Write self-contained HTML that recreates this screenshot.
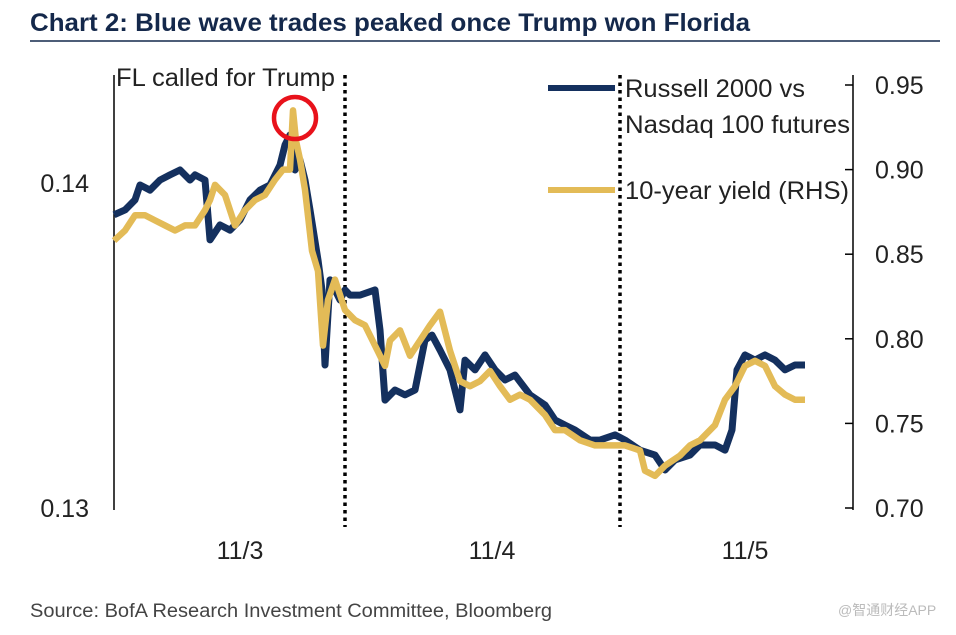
<!DOCTYPE html>
<html><head><meta charset="utf-8"><style>
body{margin:0;background:#fff;width:956px;height:630px;overflow:hidden;font-family:"Liberation Sans",sans-serif}
</style></head><body>
<svg id="chart" width="956" height="630" xmlns="http://www.w3.org/2000/svg">
<text x="30" y="31" font-family="Liberation Sans, sans-serif" font-weight="bold" font-size="25" fill="#14284b" textLength="720" lengthAdjust="spacingAndGlyphs">Chart 2: Blue wave trades peaked once Trump won Florida</text>
<line x1="30" y1="41" x2="940" y2="41" stroke="#14284b" stroke-width="1.5"/>
<line x1="114" y1="75" x2="114" y2="510" stroke="#000" stroke-width="1.5"/>
<line x1="853" y1="75" x2="853" y2="510" stroke="#000" stroke-width="1.5"/>
<g id="grid"></g>
<g id="series"></g>
<circle cx="295" cy="118" r="21" fill="none" stroke="#e8121b" stroke-width="4.5"/>
<text x="116" y="86" font-size="25" fill="#222" textLength="219" lengthAdjust="spacingAndGlyphs">FL called for Trump</text>
<g>
<line x1="548" y1="88" x2="615" y2="88" stroke="#14305e" stroke-width="6"/>
<text x="625" y="97" font-size="25" fill="#222" textLength="180" lengthAdjust="spacingAndGlyphs">Russell 2000 vs</text>
<text x="625" y="133" font-size="25" fill="#222" textLength="225" lengthAdjust="spacingAndGlyphs">Nasdaq 100 futures</text>
<line x1="548" y1="190" x2="615" y2="190" stroke="#e3bb57" stroke-width="6"/>
<text x="625" y="199" font-size="25" fill="#222" textLength="224" lengthAdjust="spacingAndGlyphs">10-year yield (RHS)</text>
</g>
<text x="30" y="617" font-family="Liberation Sans, sans-serif" font-size="19" fill="#444" textLength="522" lengthAdjust="spacingAndGlyphs">Source: BofA Research Investment Committee, Bloomberg</text>
<text x="838" y="615" font-family="Liberation Sans, Noto Sans CJK SC, sans-serif" font-size="14" fill="#bbb">@智通财经APP</text>
</svg>
<script>
const timeIdx=[0,11,21,26,36,46,56,66,76,81,91,96,106,116,126,136,146,156,166,171,176,181,186,191,196,204,208,211,216,226,231,236,246,261,266,271,281,291,301,311,318,326,336,346,351,361,371,381,391,401,416,431,441,451,461,476,486,501,511,526,541,551,561,576,586,601,611,618,623,631,641,651,661,671,681,691];
const russell=[0.13902,0.13917,0.13948,0.13994,0.13978,0.14009,0.14025,0.14040,0.14009,0.14025,0.14009,0.13825,0.13871,0.13855,0.13886,0.13948,0.13978,0.13994,0.14055,0.14117,0.14148,0.14040,0.14071,0.14009,0.13917,0.13763,0.13671,0.13440,0.13702,0.13640,0.13671,0.13655,0.13655,0.13671,0.13548,0.13332,0.13363,0.13348,0.13363,0.13517,0.13532,0.13486,0.13425,0.13302,0.13455,0.13425,0.13471,0.13425,0.13394,0.13409,0.13348,0.13317,0.13271,0.13255,0.13240,0.13209,0.13209,0.13225,0.13209,0.13178,0.13163,0.13117,0.13148,0.13163,0.13194,0.13194,0.13178,0.13240,0.13425,0.13471,0.13455,0.13471,0.13455,0.13425,0.13440,0.13440];
const yieldTime=[0,11,21,31,41,51,61,71,81,91,96,101,111,121,131,141,151,161,169,176,179,182,186,191,198,204,209,214,221,231,241,251,261,271,276,286,296,306,316,326,336,346,356,366,376,386,396,406,416,431,441,451,466,481,496,511,526,531,541,551,566,576,586,601,611,621,631,641,651,661,671,681,691];
const yield10=[0.858,0.864,0.873,0.873,0.870,0.867,0.864,0.867,0.867,0.876,0.882,0.891,0.885,0.867,0.876,0.882,0.885,0.894,0.900,0.900,0.935,0.917,0.906,0.888,0.852,0.840,0.796,0.823,0.835,0.817,0.811,0.808,0.796,0.784,0.799,0.805,0.790,0.799,0.808,0.816,0.793,0.775,0.772,0.775,0.781,0.772,0.764,0.767,0.764,0.755,0.746,0.746,0.740,0.737,0.737,0.737,0.734,0.722,0.719,0.725,0.731,0.737,0.740,0.749,0.764,0.772,0.784,0.787,0.784,0.772,0.767,0.764,0.764];
const leftTicks=[0.13,0.14];
const rightTicks=[0.70,0.75,0.80,0.85,0.90,0.95];
const dayLabels=["11/3","11/4","11/5"];
const dayPos=[126,378,631];
const eventPos=[231,506];
const NS='http://www.w3.org/2000/svg';
const xS=t=>114+t;
const yL=v=>508-(v-0.13)/0.01*325;
const yR=v=>508-(v-0.70)/0.25*423;
const svg=document.getElementById('chart'),grid=document.getElementById('grid'),ser=document.getElementById('series');
function mk(tag,parent,at){const e=document.createElementNS(NS,tag);for(const k in at)e.setAttribute(k,at[k]);parent.appendChild(e);return e;}
leftTicks.forEach(v=>{const t=mk('text',grid,{x:89,y:yL(v)+9,'text-anchor':'end','font-size':25,fill:'#222'});t.textContent=v.toFixed(2);

});
rightTicks.forEach(v=>{const l=mk('line',grid,{x1:845,x2:853,y1:yR(v),y2:yR(v),stroke:'#000','stroke-width':1.5});


const t=mk('text',grid,{x:875,y:yR(v)+9,'font-size':25,fill:'#222'});t.textContent=v.toFixed(2);

});
dayLabels.forEach((d,i)=>{const t=mk('text',grid,{x:xS(dayPos[i]),y:559,'text-anchor':'middle','font-size':25,fill:'#222'});t.textContent=d;

});
eventPos.forEach(p=>{const l=mk('line',grid,{x1:xS(p),x2:xS(p),y1:75,y2:527,stroke:'#000','stroke-width':3.5,'stroke-dasharray':'3.5 4'});

});
const pb=mk('polyline',ser,{points:timeIdx.map((t,i)=>xS(t)+','+yL(russell[i])).join(' '),fill:'none',stroke:'#14305e','stroke-width':7,'stroke-linejoin':'round'});


const py=mk('polyline',ser,{points:yieldTime.map((t,i)=>xS(t)+','+yR(yield10[i])).join(' '),fill:'none',stroke:'#e3bb57','stroke-width':6.5,'stroke-linejoin':'round'});


</script>
</body></html>
